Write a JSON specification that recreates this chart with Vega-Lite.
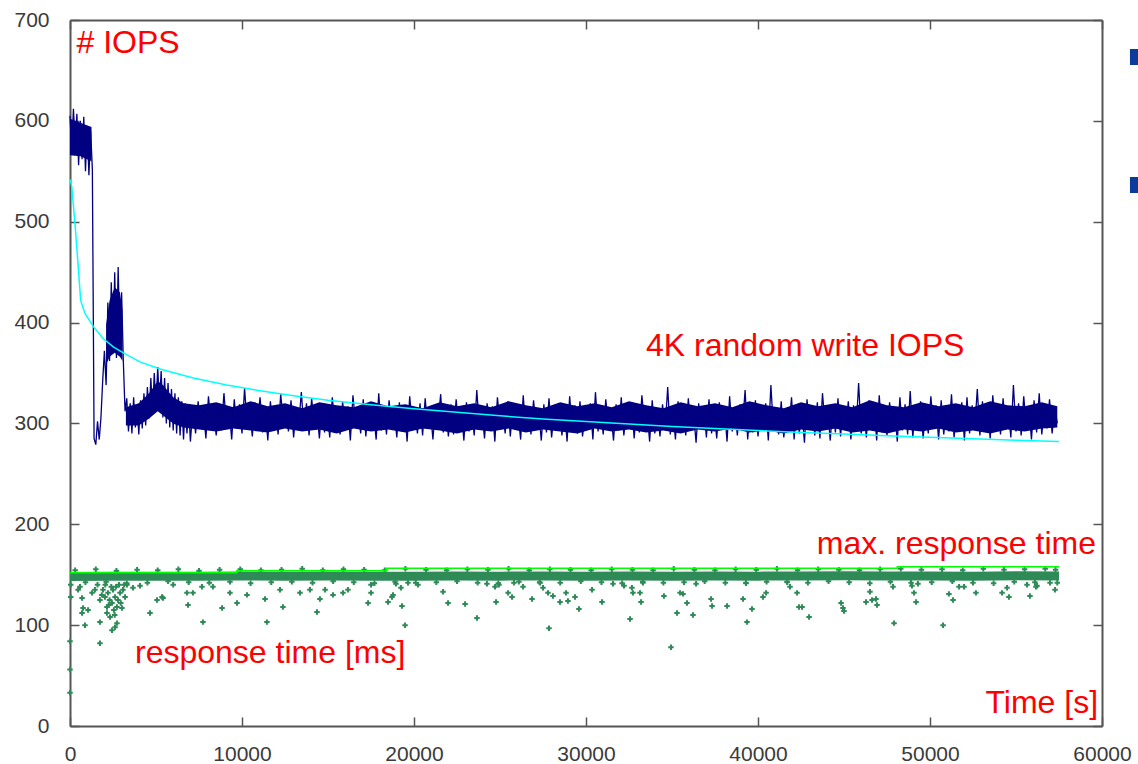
{
"$schema": "https://vega.github.io/schema/vega-lite/v6.json",
"width": 1032,
"height": 706,
"autosize": {"type": "none"},
"padding": {"left": 70, "top": 20, "right": 36, "bottom": 38},
"background": "white",
"config": {
  "view": {"stroke": null},
  "axis": {"grid": false, "domainColor": "#555555", "domainWidth": 2, "tickColor": "#555555", "tickWidth": 1.5, "tickSize": -9, "labelFont": "Liberation Sans", "labelFontSize": 21, "labelColor": "#3a3a3a", "labelFlush": false}
},
"datasets": {
  "iops": [
{"t":0,"v":605},{"t":100,"v":570},{"t":200,"v":612},{"t":300,"v":578},{"t":400,"v":607},{"t":500,"v":556},{"t":600,"v":600},{"t":700,"v":562},{"t":800,"v":604},{"t":900,"v":550},
{"t":1000,"v":595},{"t":1100,"v":546},{"t":1200,"v":590},{"t":1300,"v":552},{"t":1400,"v":285},{"t":1500,"v":279},{"t":1600,"v":302},{"t":1700,"v":284},{"t":1800,"v":306},{"t":1900,"v":342},
{"t":2000,"v":372},{"t":2100,"v":338},{"t":2200,"v":420},{"t":2300,"v":362},{"t":2400,"v":440},{"t":2500,"v":372},{"t":2600,"v":450},{"t":2700,"v":365},{"t":2800,"v":455},{"t":2900,"v":375},
{"t":3000,"v":430},{"t":3100,"v":362},{"t":3200,"v":312},{"t":3300,"v":325},{"t":3400,"v":292},{"t":3500,"v":320},{"t":3600,"v":290},{"t":3700,"v":326},{"t":3800,"v":296},{"t":3900,"v":318},
{"t":4000,"v":289},{"t":4100,"v":323},{"t":4200,"v":295},{"t":4300,"v":330},{"t":4400,"v":298},{"t":4500,"v":336},{"t":4600,"v":305},{"t":4700,"v":345},{"t":4800,"v":310},{"t":4900,"v":350},
{"t":5000,"v":314},{"t":5100,"v":356},{"t":5200,"v":318},{"t":5300,"v":352},{"t":5400,"v":306},{"t":5500,"v":345},{"t":5600,"v":300},{"t":5700,"v":340},{"t":5800,"v":296},{"t":5900,"v":334},
{"t":6000,"v":293},{"t":6100,"v":330},{"t":6200,"v":290},{"t":6300,"v":326},{"t":6400,"v":288},{"t":6500,"v":322},{"t":6600,"v":284},{"t":6700,"v":320},{"t":6800,"v":290},{"t":6900,"v":316},
{"t":7000,"v":282},
{"t":7150,"v":318},{"t":7300,"v":290},{"t":7450,"v":322},{"t":7600,"v":296},{"t":7750,"v":315},{"t":7900,"v":285},{"t":8050,"v":327},{"t":8200,"v":300},{"t":8350,"v":312},{"t":8500,"v":288},
{"t":8650,"v":320},{"t":8800,"v":293},{"t":8950,"v":330},{"t":9100,"v":298},{"t":9250,"v":316},{"t":9400,"v":284},{"t":9550,"v":324},{"t":9700,"v":295},{"t":9850,"v":319},{"t":10000,"v":290},
{"t":10150,"v":335},{"t":10300,"v":297},{"t":10450,"v":313},{"t":10600,"v":287},{"t":10750,"v":321},{"t":10900,"v":300},{"t":11050,"v":326},{"t":11200,"v":291},{"t":11350,"v":317},{"t":11500,"v":283},
{"t":11650,"v":322},{"t":11800,"v":296},{"t":11950,"v":314},{"t":12100,"v":289},{"t":12250,"v":329},{"t":12400,"v":302},{"t":12550,"v":318},{"t":12700,"v":292},{"t":12850,"v":323},{"t":13000,"v":286},
{"t":13150,"v":315},{"t":13300,"v":299},{"t":13450,"v":331},{"t":13600,"v":294},{"t":13750,"v":320},{"t":13900,"v":288},{"t":14050,"v":325},{"t":14200,"v":297},{"t":14350,"v":313},{"t":14500,"v":285},
{"t":14650,"v":320},{"t":14800,"v":291},{"t":14950,"v":315},{"t":15100,"v":286},{"t":15250,"v":326},{"t":15400,"v":298},{"t":15550,"v":312},{"t":15700,"v":289},{"t":15850,"v":322},{"t":16000,"v":294},
{"t":16150,"v":317},{"t":16300,"v":283},{"t":16450,"v":328},{"t":16600,"v":300},{"t":16750,"v":314},{"t":16900,"v":290},{"t":17050,"v":324},{"t":17200,"v":287},{"t":17350,"v":319},{"t":17500,"v":296},
{"t":17650,"v":311},{"t":17800,"v":284},{"t":17950,"v":330},{"t":18100,"v":293},{"t":18250,"v":318},{"t":18400,"v":289},{"t":18550,"v":323},{"t":18700,"v":299},{"t":18850,"v":313},{"t":19000,"v":286},
{"t":19150,"v":321},{"t":19300,"v":292},{"t":19450,"v":316},{"t":19600,"v":282},{"t":19750,"v":327},{"t":19900,"v":297},{"t":20050,"v":312},{"t":20200,"v":290},{"t":20350,"v":320},{"t":20500,"v":288},
{"t":20650,"v":325},{"t":20800,"v":295},{"t":20950,"v":314},{"t":21100,"v":284},{"t":21250,"v":318},{"t":21400,"v":300},{"t":21550,"v":329},{"t":21700,"v":291},{"t":21850,"v":315},{"t":22000,"v":287},
{"t":22150,"v":319},{"t":22300,"v":289},{"t":22450,"v":324},{"t":22600,"v":296},{"t":22750,"v":313},{"t":22900,"v":283},{"t":23050,"v":321},{"t":23200,"v":292},{"t":23350,"v":316},{"t":23500,"v":288},
{"t":23650,"v":333},{"t":23800,"v":297},{"t":23950,"v":312},{"t":24100,"v":285},{"t":24250,"v":320},{"t":24400,"v":294},{"t":24550,"v":317},{"t":24700,"v":282},{"t":24850,"v":326},{"t":25000,"v":299},
{"t":25150,"v":314},{"t":25300,"v":290},{"t":25450,"v":322},{"t":25600,"v":287},{"t":25750,"v":318},{"t":25900,"v":295},{"t":26050,"v":311},{"t":26200,"v":284},{"t":26350,"v":328},{"t":26500,"v":293},
{"t":26650,"v":316},{"t":26800,"v":289},{"t":26950,"v":323},{"t":27100,"v":298},{"t":27250,"v":313},{"t":27400,"v":283},{"t":27550,"v":319},{"t":27700,"v":291},{"t":27850,"v":325},{"t":28000,"v":286},
{"t":28150,"v":312},{"t":28300,"v":296},{"t":28450,"v":320},{"t":28600,"v":288},{"t":28750,"v":315},{"t":28900,"v":282},{"t":29050,"v":327},{"t":29200,"v":294},{"t":29350,"v":318},{"t":29500,"v":290},
{"t":29650,"v":322},{"t":29800,"v":287},{"t":29950,"v":314},{"t":30100,"v":295},{"t":30250,"v":320},{"t":30400,"v":284},{"t":30550,"v":331},{"t":30700,"v":292},{"t":30850,"v":316},{"t":31000,"v":289},
{"t":31150,"v":324},{"t":31300,"v":297},{"t":31450,"v":311},{"t":31600,"v":283},{"t":31750,"v":319},{"t":31900,"v":293},{"t":32050,"v":326},{"t":32200,"v":288},{"t":32350,"v":313},{"t":32500,"v":296},
{"t":32650,"v":321},{"t":32800,"v":285},{"t":32950,"v":317},{"t":33100,"v":291},{"t":33250,"v":328},{"t":33400,"v":298},{"t":33550,"v":312},{"t":33700,"v":282},{"t":33850,"v":323},{"t":34000,"v":290},
{"t":34150,"v":315},{"t":34300,"v":287},{"t":34450,"v":319},{"t":34600,"v":294},{"t":34750,"v":336},{"t":34900,"v":289},{"t":35050,"v":314},{"t":35200,"v":284},{"t":35350,"v":322},{"t":35500,"v":296},
{"t":35650,"v":317},{"t":35800,"v":288},{"t":35950,"v":325},{"t":36100,"v":293},{"t":36250,"v":311},{"t":36400,"v":281},{"t":36550,"v":320},{"t":36700,"v":295},{"t":36850,"v":316},{"t":37000,"v":286},
{"t":37150,"v":324},{"t":37300,"v":290},{"t":37450,"v":313},{"t":37600,"v":285},{"t":37750,"v":321},{"t":37900,"v":296},{"t":38050,"v":316},{"t":38200,"v":282},{"t":38350,"v":327},{"t":38500,"v":292},
{"t":38650,"v":312},{"t":38800,"v":288},{"t":38950,"v":319},{"t":39100,"v":297},{"t":39250,"v":333},{"t":39400,"v":284},{"t":39550,"v":317},{"t":39700,"v":291},{"t":39850,"v":323},{"t":40000,"v":287},
{"t":40150,"v":314},{"t":40300,"v":295},{"t":40450,"v":320},{"t":40600,"v":283},{"t":40750,"v":338},{"t":40900,"v":293},{"t":41050,"v":315},{"t":41200,"v":289},{"t":41350,"v":322},{"t":41500,"v":286},
{"t":41650,"v":311},{"t":41800,"v":296},{"t":41950,"v":326},{"t":42100,"v":284},{"t":42250,"v":318},{"t":42400,"v":290},{"t":42550,"v":313},{"t":42700,"v":281},{"t":42850,"v":324},{"t":43000,"v":294},
{"t":43150,"v":316},{"t":43300,"v":288},{"t":43450,"v":321},{"t":43600,"v":285},{"t":43750,"v":330},{"t":43900,"v":297},{"t":44050,"v":314},{"t":44200,"v":283},{"t":44350,"v":319},{"t":44500,"v":291},
{"t":44650,"v":325},{"t":44800,"v":287},{"t":44950,"v":316},{"t":45100,"v":294},{"t":45250,"v":322},{"t":45400,"v":284},{"t":45550,"v":318},{"t":45700,"v":292},{"t":45850,"v":340},{"t":46000,"v":290},
{"t":46150,"v":314},{"t":46300,"v":286},{"t":46450,"v":323},{"t":46600,"v":296},{"t":46750,"v":317},{"t":46900,"v":283},{"t":47050,"v":328},{"t":47200,"v":291},{"t":47350,"v":315},{"t":47500,"v":288},
{"t":47650,"v":321},{"t":47800,"v":295},{"t":47950,"v":312},{"t":48100,"v":282},{"t":48250,"v":326},{"t":48400,"v":293},{"t":48550,"v":319},{"t":48700,"v":289},{"t":48850,"v":332},{"t":49000,"v":286},
{"t":49150,"v":316},{"t":49300,"v":294},{"t":49450,"v":322},{"t":49600,"v":285},{"t":49750,"v":314},{"t":49900,"v":290},{"t":50050,"v":327},{"t":50200,"v":297},{"t":50350,"v":318},{"t":50500,"v":284},
{"t":50650,"v":323},{"t":50800,"v":289},{"t":50950,"v":315},{"t":51100,"v":292},{"t":51250,"v":329},{"t":51400,"v":286},{"t":51550,"v":317},{"t":51700,"v":295},{"t":51850,"v":321},{"t":52000,"v":283},
{"t":52150,"v":326},{"t":52300,"v":290},{"t":52450,"v":318},{"t":52600,"v":295},{"t":52750,"v":334},{"t":52900,"v":288},{"t":53050,"v":322},{"t":53200,"v":293},{"t":53350,"v":316},{"t":53500,"v":285},
{"t":53650,"v":328},{"t":53800,"v":297},{"t":53950,"v":319},{"t":54100,"v":289},{"t":54250,"v":325},{"t":54400,"v":294},{"t":54550,"v":317},{"t":54700,"v":286},{"t":54850,"v":338},{"t":55000,"v":292},
{"t":55150,"v":320},{"t":55300,"v":288},{"t":55450,"v":327},{"t":55600,"v":296},{"t":55750,"v":315},{"t":55900,"v":284},{"t":56050,"v":323},{"t":56200,"v":291},{"t":56350,"v":330},{"t":56500,"v":289},
{"t":56650,"v":318},{"t":56800,"v":295},{"t":56950,"v":324},{"t":57100,"v":290},{"t":57250,"v":316},{"t":57400,"v":300}
  ],
  "iopsCore": [
{"g":1,"t":0,"lo":566,"hi":602},{"g":1,"t":600,"lo":565,"hi":598},{"g":1,"t":1250,"lo":560,"hi":594},
{"g":2,"t":2100,"lo":358,"hi":398},{"g":2,"t":2300,"lo":366,"hi":422},{"g":2,"t":2600,"lo":370,"hi":435},{"g":2,"t":2900,"lo":366,"hi":430},{"g":2,"t":3050,"lo":362,"hi":412},
{"g":3,"t":3250,"lo":298,"hi":316},{"g":3,"t":4000,"lo":298,"hi":320},{"g":3,"t":4600,"lo":305,"hi":330},{"g":3,"t":5100,"lo":312,"hi":342},{"g":3,"t":5400,"lo":308,"hi":338},{"g":3,"t":6000,"lo":300,"hi":326},{"g":3,"t":6600,"lo":296,"hi":320},
{"g":3,"t":7500,"lo":294,"hi":318},{"g":3,"t":8500,"lo":292,"hi":321},{"g":3,"t":9500,"lo":295,"hi":316},{"g":3,"t":10500,"lo":293,"hi":322},{"g":3,"t":11500,"lo":291,"hi":317},{"g":3,"t":12500,"lo":295,"hi":320},
{"g":3,"t":13500,"lo":292,"hi":315},{"g":3,"t":14500,"lo":294,"hi":321},{"g":3,"t":15500,"lo":290,"hi":318},{"g":3,"t":16500,"lo":295,"hi":316},{"g":3,"t":17500,"lo":292,"hi":322},{"g":3,"t":18500,"lo":294,"hi":317},
{"g":3,"t":19500,"lo":291,"hi":319},{"g":3,"t":20500,"lo":295,"hi":315},{"g":3,"t":21500,"lo":293,"hi":321},{"g":3,"t":22500,"lo":290,"hi":317},{"g":3,"t":23500,"lo":294,"hi":320},{"g":3,"t":24500,"lo":292,"hi":316},
{"g":3,"t":25500,"lo":295,"hi":322},{"g":3,"t":26500,"lo":291,"hi":318},{"g":3,"t":27500,"lo":294,"hi":315},{"g":3,"t":28500,"lo":292,"hi":321},{"g":3,"t":29500,"lo":290,"hi":317},{"g":3,"t":30500,"lo":295,"hi":320},
{"g":3,"t":31500,"lo":292,"hi":316},{"g":3,"t":32500,"lo":294,"hi":322},{"g":3,"t":33500,"lo":291,"hi":318},{"g":3,"t":34500,"lo":293,"hi":315},{"g":3,"t":35500,"lo":290,"hi":321},{"g":3,"t":36500,"lo":294,"hi":317},
{"g":3,"t":37500,"lo":292,"hi":320},{"g":3,"t":38500,"lo":295,"hi":316},{"g":3,"t":39500,"lo":291,"hi":322},{"g":3,"t":40500,"lo":293,"hi":318},{"g":3,"t":41500,"lo":290,"hi":315},{"g":3,"t":42500,"lo":294,"hi":321},
{"g":3,"t":43500,"lo":292,"hi":317},{"g":3,"t":44500,"lo":295,"hi":320},{"g":3,"t":45500,"lo":291,"hi":316},{"g":3,"t":46500,"lo":293,"hi":323},{"g":3,"t":47500,"lo":290,"hi":318},{"g":3,"t":48500,"lo":294,"hi":316},
{"g":3,"t":49500,"lo":292,"hi":321},{"g":3,"t":50500,"lo":295,"hi":317},{"g":3,"t":51500,"lo":291,"hi":320},{"g":3,"t":52500,"lo":293,"hi":316},{"g":3,"t":53500,"lo":290,"hi":322},{"g":3,"t":54500,"lo":294,"hi":318},
{"g":3,"t":55500,"lo":292,"hi":317},{"g":3,"t":56500,"lo":295,"hi":321},{"g":3,"t":57400,"lo":296,"hi":317}
  ],
  "avg": [
{"t":0,"v":542},{"t":100,"v":535},{"t":290,"v":498},{"t":480,"v":455},{"t":620,"v":422},{"t":870,"v":409},{"t":1360,"v":396},{"t":1940,"v":384},{"t":2520,"v":376},{"t":3100,"v":370},
{"t":4070,"v":361},{"t":5230,"v":354},{"t":7170,"v":345},{"t":9110,"v":338},{"t":11050,"v":332.5},{"t":13000,"v":327.5},{"t":15000,"v":323},{"t":17500,"v":318.5},{"t":20000,"v":314.5},{"t":22500,"v":311},
{"t":25000,"v":307.5},{"t":27500,"v":304.5},{"t":30000,"v":302},{"t":32500,"v":299.5},{"t":35000,"v":297},{"t":37500,"v":295},{"t":40000,"v":293},{"t":42500,"v":291},{"t":45000,"v":289.5},{"t":47500,"v":287.8},
{"t":50000,"v":286.3},{"t":52500,"v":284.8},{"t":55000,"v":283.4},{"t":57500,"v":282}
  ],
  "maxrt": [
{"t":0,"v":152},{"t":9700,"v":154},{"t":18400,"v":156.4},{"t":48100,"v":158},{"t":57500,"v":158}
  ],
  "band": [
{"t":0,"v":148.2},{"t":2500,"v":148.4},{"t":5000,"v":148.6},{"t":7500,"v":148.5},{"t":10000,"v":148.8},{"t":12500,"v":148.6},{"t":15000,"v":148.7},{"t":17500,"v":148.5},{"t":20000,"v":148.6},{"t":22500,"v":148.8},
{"t":25000,"v":148.6},{"t":27500,"v":148.7},{"t":30000,"v":148.5},{"t":32500,"v":148.7},{"t":35000,"v":148.6},{"t":37500,"v":148.8},{"t":40000,"v":148.6},{"t":42500,"v":148.7},{"t":45000,"v":148.9},{"t":47500,"v":148.7},
{"t":50000,"v":148.8},{"t":52500,"v":148.6},{"t":55000,"v":148.9},{"t":57500,"v":148.7}
  ],
  "rt": [
{"t":0,"v":33},{"t":0,"v":56},{"t":0,"v":84},{"t":40,"v":140},{"t":40,"v":128},{"t":580,"v":138},{"t":470,"v":135},{"t":700,"v":127},{"t":760,"v":117},{"t":700,"v":112},
{"t":870,"v":100},{"t":1050,"v":115},{"t":1280,"v":132},{"t":1450,"v":135},{"t":1740,"v":125},{"t":1740,"v":103},{"t":1740,"v":82},{"t":1920,"v":135},{"t":2030,"v":128},{"t":2150,"v":118},
{"t":2150,"v":112},{"t":2210,"v":132},{"t":2330,"v":108},{"t":2440,"v":122},{"t":2500,"v":135},{"t":2620,"v":128},{"t":2620,"v":98},{"t":2730,"v":118},{"t":2730,"v":102},{"t":2790,"v":125},
{"t":2910,"v":132},{"t":3020,"v":117},{"t":3080,"v":135},{"t":3200,"v":128},{"t":3310,"v":140},{"t":1600,"v":140},{"t":1850,"v":130},{"t":2050,"v":140},{"t":2300,"v":125},{"t":2400,"v":138},
{"t":2550,"v":115},{"t":2680,"v":138},{"t":2850,"v":140},{"t":2950,"v":122},{"t":3150,"v":140},{"t":2250,"v":120},{"t":2600,"v":110},{"t":2440,"v":95},
{"t":3660,"v":137},{"t":4070,"v":139},{"t":4650,"v":112},{"t":5060,"v":125},{"t":5350,"v":128},{"t":5410,"v":127},{"t":6000,"v":140},{"t":6800,"v":132},{"t":6860,"v":120},{"t":7150,"v":132},
{"t":7670,"v":138},{"t":7730,"v":103},{"t":8310,"v":138},{"t":8840,"v":117},{"t":9300,"v":132},{"t":9710,"v":122},{"t":10290,"v":130},{"t":11340,"v":126},{"t":11450,"v":103},{"t":12210,"v":135},
{"t":12380,"v":118},{"t":13370,"v":132},{"t":13950,"v":135},{"t":14360,"v":113},{"t":14530,"v":126},{"t":14830,"v":135},{"t":15290,"v":130},{"t":15870,"v":132},{"t":16160,"v":135},{"t":17330,"v":122},
{"t":17500,"v":140},{"t":17500,"v":132},{"t":18490,"v":123},{"t":18720,"v":128},{"t":18780,"v":130},{"t":18950,"v":141},{"t":19240,"v":137},{"t":19300,"v":119},{"t":19480,"v":100},{"t":19650,"v":142},
{"t":20230,"v":140},{"t":21690,"v":133},{"t":21980,"v":122},{"t":22970,"v":121},{"t":23660,"v":107},{"t":24240,"v":141},{"t":24710,"v":138},{"t":24770,"v":123},{"t":24940,"v":140},{"t":25470,"v":132},
{"t":25700,"v":128},{"t":25810,"v":142},{"t":26340,"v":138},{"t":26860,"v":126},{"t":27330,"v":142},{"t":27500,"v":137},{"t":27790,"v":132},{"t":27850,"v":97},{"t":28080,"v":129},{"t":28490,"v":123},
{"t":28840,"v":132},{"t":28950,"v":124},{"t":29360,"v":128},{"t":29590,"v":116},{"t":30350,"v":135},{"t":30930,"v":123},{"t":31570,"v":141},{"t":32210,"v":139},{"t":32560,"v":106},{"t":32670,"v":137},
{"t":32730,"v":132},{"t":33140,"v":132},{"t":33200,"v":123},{"t":33310,"v":142},{"t":34530,"v":129},{"t":34940,"v":78},{"t":35290,"v":112},{"t":35470,"v":132},{"t":35640,"v":131},{"t":35870,"v":122},
{"t":36220,"v":110},{"t":36400,"v":141},{"t":37270,"v":126},{"t":37330,"v":119},{"t":38200,"v":119},{"t":39130,"v":126},{"t":39300,"v":142},{"t":39360,"v":103},{"t":39650,"v":116},{"t":40290,"v":128},
{"t":40470,"v":132},{"t":41690,"v":143},{"t":41860,"v":138},{"t":42270,"v":132},{"t":42380,"v":118},{"t":42560,"v":118},{"t":42970,"v":108},{"t":44830,"v":122},{"t":44940,"v":117},{"t":45000,"v":114},
{"t":46280,"v":123},{"t":46510,"v":133},{"t":46630,"v":125},{"t":46860,"v":126},{"t":46920,"v":120},{"t":47850,"v":138},{"t":47910,"v":102},{"t":48950,"v":139},{"t":49070,"v":132},{"t":49190,"v":123},
{"t":49300,"v":141},{"t":50760,"v":100},{"t":51100,"v":131},{"t":51340,"v":125},{"t":51690,"v":138},{"t":51980,"v":138},{"t":52670,"v":132},{"t":54190,"v":132},{"t":54480,"v":137},{"t":54590,"v":128},
{"t":55640,"v":140},{"t":55810,"v":129},{"t":56160,"v":138},{"t":56220,"v":139},{"t":56980,"v":142},{"t":57270,"v":135},
{"t":300,"v":154.5},{"t":1500,"v":155.5},{"t":2700,"v":154},{"t":3900,"v":155},{"t":5100,"v":154.5},{"t":6300,"v":155.5},{"t":7500,"v":154},{"t":8700,"v":155},{"t":9900,"v":155.5},{"t":11100,"v":154.5},
{"t":12300,"v":155},{"t":13500,"v":156},{"t":14700,"v":154.5},{"t":15900,"v":155.5},{"t":17100,"v":155},{"t":18300,"v":154.5},{"t":19500,"v":156},{"t":20700,"v":155},{"t":21900,"v":154.5},{"t":23100,"v":155.5},
{"t":24300,"v":155},{"t":25500,"v":156},{"t":26700,"v":154.5},{"t":27900,"v":155.5},{"t":29100,"v":155},{"t":30300,"v":154.5},{"t":31500,"v":155.5},{"t":32700,"v":155},{"t":33900,"v":154.5},{"t":35100,"v":156},
{"t":36300,"v":155},{"t":37500,"v":154.5},{"t":38700,"v":155.5},{"t":39900,"v":155},{"t":41100,"v":156},{"t":42300,"v":154.5},{"t":43500,"v":155.5},{"t":44700,"v":155},{"t":45900,"v":154.5},{"t":47100,"v":155.5},
{"t":48300,"v":156},{"t":49500,"v":155},{"t":50700,"v":155.5},{"t":51900,"v":154.5},{"t":53100,"v":156},{"t":54300,"v":155},{"t":55500,"v":155.5},{"t":56700,"v":156},{"t":57300,"v":155},
{"t":900,"v":142.5},{"t":2100,"v":143},{"t":3300,"v":141.5},{"t":4500,"v":142},{"t":5700,"v":143.5},{"t":6900,"v":142.5},{"t":8100,"v":142},{"t":9300,"v":143},{"t":10500,"v":141.5},{"t":11700,"v":142.5},
{"t":12900,"v":143},{"t":14100,"v":142},{"t":15300,"v":143.5},{"t":16500,"v":142.5},{"t":17700,"v":141.5},{"t":18900,"v":143},{"t":20100,"v":142},{"t":21300,"v":142.5},{"t":22500,"v":143.5},{"t":23700,"v":142},
{"t":24900,"v":141.5},{"t":26100,"v":143},{"t":27300,"v":142.5},{"t":28500,"v":142},{"t":29700,"v":143.5},{"t":30900,"v":142.5},{"t":32100,"v":141.5},{"t":33300,"v":143},{"t":34500,"v":142},{"t":35700,"v":142.5},
{"t":36900,"v":143.5},{"t":38100,"v":142},{"t":39300,"v":141.5},{"t":40500,"v":143},{"t":41700,"v":142.5},{"t":42900,"v":142},{"t":44100,"v":143.5},{"t":45300,"v":142.5},{"t":46500,"v":141.5},{"t":47700,"v":143},
{"t":48900,"v":142},{"t":50100,"v":142.5},{"t":51300,"v":143.5},{"t":52500,"v":142},{"t":53700,"v":141.5},{"t":54900,"v":143},{"t":56100,"v":142.5},{"t":57400,"v":142}
  ],
  "labelsLeft": [
{"t":378,"v":667.3,"label":"# IOPS"},
{"t":33490,"v":366.8,"label":"4K random write IOPS"},
{"t":3780,"v":62.5,"label":"response time [ms]"}
  ],
  "labelsRight": [
{"t":59650,"v":170.5,"label":"max. response time"},
{"t":59770,"v":12.9,"label":"Time [s]"}
  ],
  "bullets": [
{"t":62090,"v":663.3},
{"t":62090,"v":536.4}
  ]
},
"layer": [
  {
    "data": {"name": "iopsCore"},
    "mark": {"type": "area", "color": "#000080", "opacity": 1},
    "encoding": {
      "x": {"field": "t", "type": "quantitative", "scale": {"domain": [0, 60000], "nice": false, "zero": false}, "axis": {"orient": "bottom", "title": null, "values": [0,10000,20000,30000,40000,50000,60000], "format": "d", "labelPadding": 26}},
      "y": {"field": "lo", "type": "quantitative", "scale": {"domain": [0, 700], "nice": false, "zero": false}, "axis": {"orient": "left", "title": null, "values": [0,100,200,300,400,500,600,700], "labelPadding": 30}},
      "y2": {"field": "hi"},
      "detail": {"field": "g"}
    }
  },
  {
    "data": {"name": "iops"},
    "mark": {"type": "line", "color": "#000080", "strokeWidth": 1.3},
    "encoding": {
      "x": {"field": "t", "type": "quantitative", "scale": {"domain": [0, 60000], "nice": false, "zero": false}, "axis": {"orient": "top", "title": null, "values": [0,10000,20000,30000,40000,50000,60000], "labels": false}},
      "y": {"field": "v", "type": "quantitative", "scale": {"domain": [0, 700], "nice": false, "zero": false}, "axis": {"orient": "right", "title": null, "values": [0,100,200,300,400,500,600,700], "labels": false}}
    }
  },
  {
    "data": {"name": "avg"},
    "mark": {"type": "line", "color": "#00ffff", "strokeWidth": 1.5},
    "encoding": {
      "x": {"field": "t", "type": "quantitative", "scale": {"domain": [0, 60000], "nice": false, "zero": false}, "axis": null},
      "y": {"field": "v", "type": "quantitative", "scale": {"domain": [0, 700], "nice": false, "zero": false}, "axis": null}
    }
  },
  {
    "data": {"name": "band"},
    "mark": {"type": "line", "color": "#2e8b57", "strokeWidth": 9},
    "encoding": {
      "x": {"field": "t", "type": "quantitative", "scale": {"domain": [0, 60000], "nice": false, "zero": false}, "axis": null},
      "y": {"field": "v", "type": "quantitative", "scale": {"domain": [0, 700], "nice": false, "zero": false}, "axis": null}
    }
  },
  {
    "data": {"name": "rt"},
    "mark": {"type": "point", "shape": "M-1,0H1M0,-1V1", "filled": false, "color": "#2e8b57", "strokeWidth": 2, "size": 30, "opacity": 1},
    "encoding": {
      "x": {"field": "t", "type": "quantitative", "scale": {"domain": [0, 60000], "nice": false, "zero": false}, "axis": null},
      "y": {"field": "v", "type": "quantitative", "scale": {"domain": [0, 700], "nice": false, "zero": false}, "axis": null}
    }
  },
  {
    "data": {"name": "maxrt"},
    "mark": {"type": "line", "color": "#00ff00", "strokeWidth": 1.5, "interpolate": "step-after"},
    "encoding": {
      "x": {"field": "t", "type": "quantitative", "scale": {"domain": [0, 60000], "nice": false, "zero": false}, "axis": null},
      "y": {"field": "v", "type": "quantitative", "scale": {"domain": [0, 700], "nice": false, "zero": false}, "axis": null}
    }
  },
  {
    "data": {"name": "labelsLeft"},
    "mark": {"type": "text", "align": "left", "baseline": "alphabetic", "font": "Liberation Sans", "fontSize": 32, "color": "#ff0000"},
    "encoding": {
      "x": {"field": "t", "type": "quantitative", "scale": {"domain": [0, 60000], "nice": false, "zero": false}, "axis": null},
      "y": {"field": "v", "type": "quantitative", "scale": {"domain": [0, 700], "nice": false, "zero": false}, "axis": null},
      "text": {"field": "label"}
    }
  },
  {
    "data": {"name": "labelsRight"},
    "mark": {"type": "text", "align": "right", "baseline": "alphabetic", "font": "Liberation Sans", "fontSize": 32, "color": "#ff0000"},
    "encoding": {
      "x": {"field": "t", "type": "quantitative", "scale": {"domain": [0, 60000], "nice": false, "zero": false}, "axis": null},
      "y": {"field": "v", "type": "quantitative", "scale": {"domain": [0, 700], "nice": false, "zero": false}, "axis": null},
      "text": {"field": "label"}
    }
  },
  {
    "data": {"name": "bullets"},
    "mark": {"type": "point", "shape": "square", "filled": true, "color": "#0d3b9c", "size": 256, "opacity": 1},
    "encoding": {
      "x": {"field": "t", "type": "quantitative", "scale": {"domain": [0, 60000], "nice": false, "zero": false}, "axis": null},
      "y": {"field": "v", "type": "quantitative", "scale": {"domain": [0, 700], "nice": false, "zero": false}, "axis": null}
    }
  }
],
"resolve": {"axis": {"x": "independent", "y": "independent"}}
}
